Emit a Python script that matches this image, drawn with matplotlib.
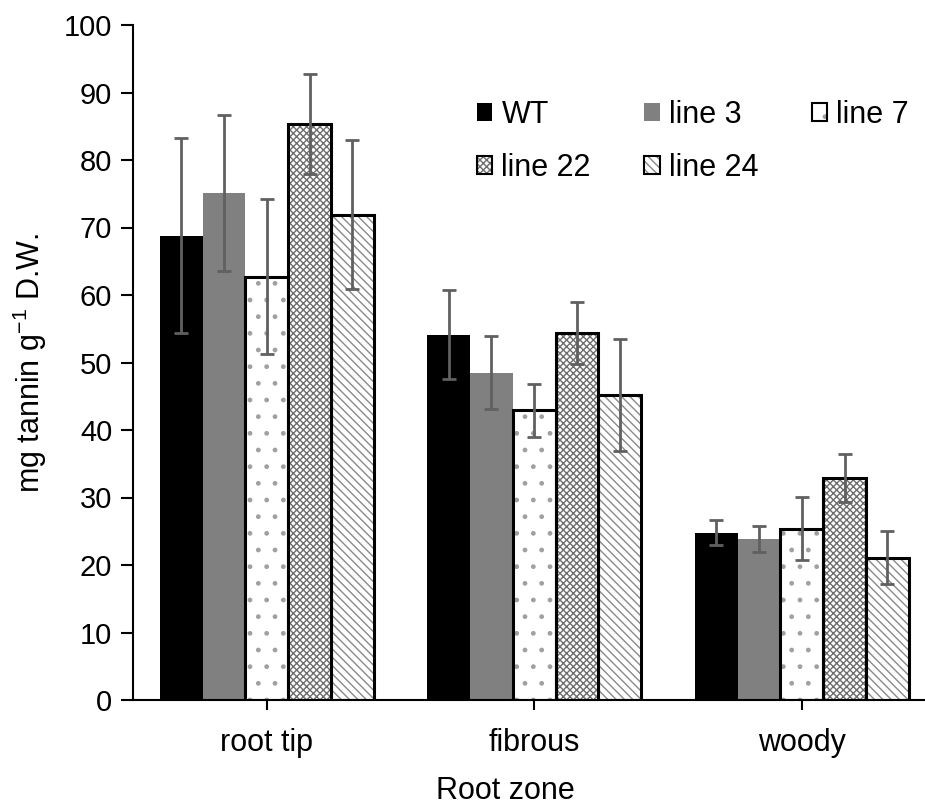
import matplotlib
matplotlib.use("Agg")
import matplotlib.pyplot as plt
import numpy as np
from matplotlib.patches import Patch
from matplotlib.legend_handler import HandlerTuple

plt.rcParams['font.family'] = ['Liberation Sans', 'DejaVu Sans']
plt.rcParams['mathtext.default'] = 'regular'
plt.rcParams['hatch.linewidth'] = 1.0

categories = ["root tip", "fibrous", "woody"]
series = ["WT", "line 3", "line 7", "line 22", "line 24"]
values = {
    "WT":      [68.8, 54.1, 24.8],
    "line 3":  [75.1, 48.5, 23.9],
    "line 7":  [62.7, 42.9, 25.4],
    "line 22": [85.3, 54.4, 32.9],
    "line 24": [71.9, 45.2, 21.1],
}
errors = {
    "WT":      [14.4, 6.6, 1.9],
    "line 3":  [11.6, 5.4, 1.9],
    "line 7":  [11.5, 3.9, 4.7],
    "line 22": [7.4, 4.6, 3.6],
    "line 24": [11.0, 8.3, 3.9],
}
yticks = [0, 10, 20, 30, 40, 50, 60, 70, 80, 90, 100]

styles = {
    "WT":      dict(face="black", hatch=None, hcol="black", edge=None),
    "line 3":  dict(face="#808080", hatch=None, hcol="#808080", edge=None),
    "line 7":  dict(face="white", hatch=".", hcol="#a0a0a0", edge="black"),
    "line 22": dict(face="white", hatch="xxxxx", hcol="#6e6e6e", edge="black"),
    "line 24": dict(face="white", hatch="\\\\\\\\", hcol="#8a8a8a", edge="black"),
}

fig = plt.figure(figsize=(9.25, 8.06), dpi=100)
W, H = 925, 806
left, right, bottom, top = 133, 925, 700, 25
ax = fig.add_axes([left / W, 1 - bottom / H, (right - left) / W, (bottom - top) / H])

FS = 22
x = np.arange(len(categories))
bw = 0.16
handles = {}
for i, s in enumerate(series):
    st = styles[s]
    pos = x + (i - 2) * bw
    ax.bar(pos, values[s], width=bw, color=st["face"], hatch=st["hatch"],
           edgecolor=st["hcol"], linewidth=0, zorder=2)
    if st["edge"]:
        ax.bar(pos, values[s], width=bw, fill=False, edgecolor=st["edge"],
               linewidth=2.2, zorder=3)
    ax.errorbar(pos, values[s], yerr=errors[s], fmt="none", ecolor="#606060",
                elinewidth=2.0, capsize=5, capthick=2.0, zorder=4)
    h1 = Patch(facecolor=st["face"], hatch=st["hatch"], edgecolor=st["hcol"], linewidth=0)
    if st["edge"]:
        h2 = Patch(facecolor="none", edgecolor=st["edge"], linewidth=1.5)
        handles[s] = (h1, h2)
    else:
        handles[s] = h1

ax.set_xlim(-0.5, -0.5 + (right - left) / 267.5)
ax.set_ylim(0, 100)
ax.set_yticks(yticks)
ax.set_xticks(x)
ax.set_xticklabels(categories, fontsize=FS)
ax.tick_params(axis='y', labelsize=21, length=9, width=1.5, direction='out', pad=6)
ax.tick_params(axis='x', labelsize=FS, length=7, width=1.5, direction='out', pad=13)
for sp in ["top", "right"]:
    ax.spines[sp].set_visible(False)
for sp in ["left", "bottom"]:
    ax.spines[sp].set_linewidth(1.5)
ax.set_ylabel("mg tannin g$^{-1}$ D.W.", fontsize=FS)
ax.set_xlabel("Root zone", fontsize=FS)
ax.yaxis.set_label_coords((49 - left) / (right - left), 0.5)
ax.xaxis.set_label_coords(0.5 + (505 - 529) / (right - left), -(776 - bottom) / (bottom - top))

order = ["WT", "line 22", "line 3", "line 24", "line 7"]
leg = ax.legend([handles[s] for s in order], order, ncol=3, frameon=False, fontsize=FS,
                loc="upper left", bbox_to_anchor=(477 / W, 1 - 100 / H),
                bbox_transform=fig.transFigure,
                handlelength=0.5, handleheight=0.5, handletextpad=0.3,
                columnspacing=1.75, labelspacing=0.75, borderpad=0, borderaxespad=0,
                handler_map={tuple: HandlerTuple(ndivide=1, pad=0)})

fig.savefig("out.png", dpi=100)
